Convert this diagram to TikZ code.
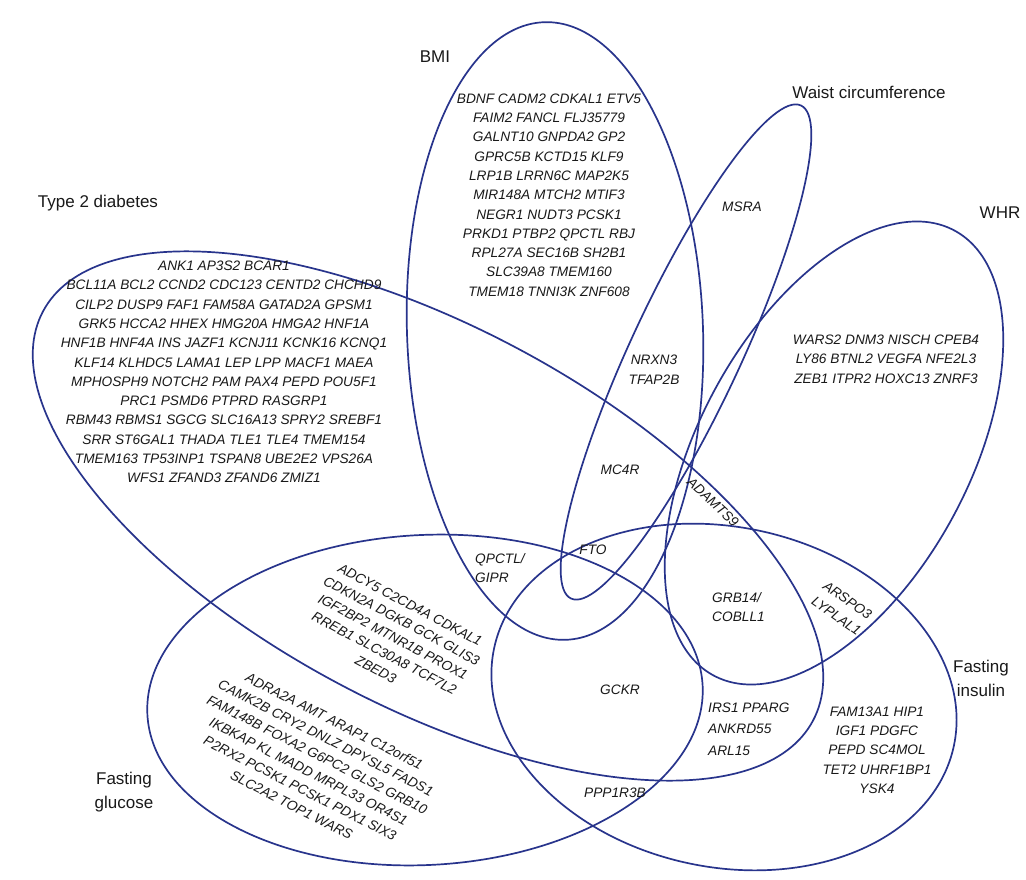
\documentclass[tikz,border=0pt]{standalone}
\usepackage{fontspec}
\setmainfont{Liberation Sans}
\definecolor{eb}{RGB}{40,52,140}
\definecolor{tx}{RGB}{25,25,25}
\begin{document}
\begin{tikzpicture}[x=1pt,y=-1pt,
  ell/.style={draw=eb, line width=1.7pt},
  gene/.style={font=\itshape\fontsize{13.7}{19.3}\selectfont, text=tx, align=center, inner sep=0pt},
  ttl/.style={font=\fontsize{17}{24}\selectfont, text=tx, align=center, inner sep=0pt}]
\useasboundingbox[fill=white] (0,0) rectangle (1026,880);
% ellipses
\draw[ell, rotate around={2:(555,331)}] (555,331) ellipse (148 and 309);    % BMI
\draw[ell, rotate around={65:(686,352)}] (686,352) ellipse (272 and 55);    % waist
\draw[ell, rotate around={61.5:(834,453)}] (834,453) ellipse (253 and 135); % WHR
\draw[ell, rotate around={-28:(428,516)}] (428,516) ellipse (436 and 190);  % T2D
\draw[ell, rotate around={3:(425,700)}] (425,700) ellipse (278 and 165);    % glucose
\draw[ell, rotate around={-12:(724,697)}] (724,697) ellipse (235 and 170);  % insulin
% titles
\node[ttl] (tbmi) at (435,57) {BMI};
\node[ttl] (twaist) at (869,92) {Waist circumference};
\node[ttl] (tt2d) at (98,203) {Type 2 diabetes};
\node[ttl] (twhr) at (1000,213) {WHR};
\node[ttl] (tins) at (981,678) {Fasting\\insulin};
\node[ttl] (tglu) at (124,792) {Fasting\\glucose};
% gene sets
\node[gene] (gbmi) at (549,195) {BDNF CADM2 CDKAL1 ETV5\\FAIM2 FANCL FLJ35779\\GALNT10 GNPDA2 GP2\\GPRC5B KCTD15 KLF9\\LRP1B LRRN6C MAP2K5\\MIR148A MTCH2 MTIF3\\NEGR1 NUDT3 PCSK1\\PRKD1 PTBP2 QPCTL RBJ\\RPL27A SEC16B SH2B1\\SLC39A8 TMEM160\\TMEM18 TNNI3K ZNF608};
\node[gene] (gt2d) at (224,372) {ANK1 AP3S2 BCAR1\\BCL11A BCL2 CCND2 CDC123 CENTD2 CHCHD9\\CILP2 DUSP9 FAF1 FAM58A GATAD2A GPSM1\\GRK5 HCCA2 HHEX HMG20A HMGA2 HNF1A\\HNF1B HNF4A INS JAZF1 KCNJ11 KCNK16 KCNQ1\\KLF14 KLHDC5 LAMA1 LEP LPP MACF1 MAEA\\MPHOSPH9 NOTCH2 PAM PAX4 PEPD POU5F1\\PRC1 PSMD6 PTPRD RASGRP1\\RBM43 RBMS1 SGCG SLC16A13 SPRY2 SREBF1\\SRR ST6GAL1 THADA TLE1 TLE4 TMEM154\\TMEM163 TP53INP1 TSPAN8 UBE2E2 VPS26A\\WFS1 ZFAND3 ZFAND6 ZMIZ1};
\node[gene] (gwhr) at (886,359) {WARS2 DNM3 NISCH CPEB4\\LY86 BTNL2 VEGFA NFE2L3\\ZEB1 ITPR2 HOXC13 ZNRF3};
\node[gene] (gins) at (877,750) {FAM13A1 HIP1\\IGF1 PDGFC\\PEPD SC4MOL\\TET2 UHRF1BP1\\YSK4};
\node[gene, rotate=-28, font=\itshape\fontsize{13.7}{18.3}\selectfont] (gglu1) at (393,637) {ADCY5 C2CD4A CDKAL1\\CDKN2A DGKB GCK GLIS3\\IGF2BP2 MTNR1B PROX1\\RREB1 SLC30A8 TCF7L2\\ZBED3};
\node[gene, rotate=-27, font=\itshape\fontsize{13.7}{18.8}\selectfont] (gglu2) at (313,763) {ADRA2A AMT ARAP1 C12orf51\\CAMK2B CRY2 DNLZ DPYSL5 FADS1\\FAM148B FOXA2 G6PC2 GLS2 GRB10\\IKBKAP KL MADD MRPL33 OR4S1\\P2RX2 PCSK1 PCSK1 PDX1 SIX3\\SLC2A2 TOP1 WARS};
\node[gene] (msra) at (742,207) {MSRA};
\node[gene, font=\itshape\fontsize{13.7}{20}\selectfont] (nrxn) at (654,370) {NRXN3\\TFAP2B};
\node[gene] (mc4r) at (620,470) {MC4R};
\node[gene] (fto) at (593,550) {FTO};
\node[gene, rotate=-43] (adam) at (713,502) {ADAMTS9};
\node[gene, align=left, anchor=west] (qpctl) at (475,568) {QPCTL/\\GIPR};
\node[gene, align=left, anchor=west] (grb) at (712,607) {GRB14/\\COBLL1};
\node[gene, rotate=-35] (arspo) at (842,608) {ARSPO3\\LYPLAL1};
\node[gene] (gckr) at (620,690) {GCKR};
\node[gene, align=left, anchor=west, font=\itshape\fontsize{13.7}{21.5}\selectfont] (irs) at (708,729) {IRS1 PPARG\\ANKRD55\\ARL15};
\node[gene] (ppp) at (615,793) {PPP1R3B};
\end{tikzpicture}
\end{document}
